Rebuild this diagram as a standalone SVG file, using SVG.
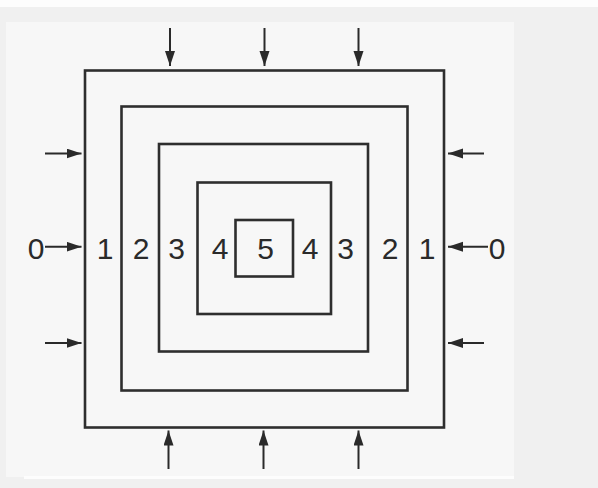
<svg xmlns="http://www.w3.org/2000/svg" width="598" height="488" viewBox="0 0 598 488">
<style>
.sq{fill:none;stroke:#2e2e2e;stroke-width:2.6}
.ar{stroke:#2a2a2a;stroke-width:2;fill:none;marker-end:url(#ah)}
.lb{font-family:"Liberation Sans",Arial,sans-serif;font-size:30px;fill:#2a2a2a;text-anchor:middle}
</style>
<defs>
<marker id="ah" markerUnits="userSpaceOnUse" markerWidth="16" markerHeight="12" refX="15" refY="5" orient="auto">
<path d="M0,0 L15,5 L0,10 Z" fill="#2a2a2a"/>
</marker>
</defs>
<rect x="0" y="0" width="598" height="488" fill="#f0f0f0"/>
<rect x="0" y="0" width="598" height="7" fill="#fdfdfd"/>
<rect x="6" y="22" width="508" height="455" fill="#f7f7f7"/>
<rect x="24" y="476" width="490" height="3" fill="#fdfdfd"/>
<g id="square1"><rect class="sq" x="85" y="70.5" width="359" height="357"/></g>
<g id="square2"><rect class="sq" x="121.5" y="106.5" width="286" height="284"/></g>
<g id="square3"><rect class="sq" x="159" y="144" width="209" height="207.5"/></g>
<g id="square4"><rect class="sq" x="197.5" y="182.5" width="133.5" height="131.5"/></g>
<g id="square5"><rect class="sq" x="235.5" y="220" width="57.5" height="56.5"/></g>
<g id="labels">
<text class="lb" x="36" y="258.5">0</text>
<text class="lb" x="105" y="258.5">1</text>
<text class="lb" x="141" y="258.5">2</text>
<text class="lb" x="176.5" y="258.5">3</text>
<text class="lb" x="220" y="258.5">4</text>
<text class="lb" x="265.5" y="258.5">5</text>
<text class="lb" x="310" y="258.5">4</text>
<text class="lb" x="345.5" y="258.5">3</text>
<text class="lb" x="390" y="258.5">2</text>
<text class="lb" x="427" y="258.5">1</text>
<text class="lb" x="497" y="258.5">0</text>
</g>
<g id="connectors">
<line class="ar" x1="170" y1="28" x2="170" y2="66"/>
<line class="ar" x1="264.5" y1="28" x2="264.5" y2="66"/>
<line class="ar" x1="358.5" y1="28" x2="358.5" y2="66"/>
<line class="ar" x1="168.5" y1="469" x2="168.5" y2="430.5"/>
<line class="ar" x1="263.5" y1="469" x2="263.5" y2="430.5"/>
<line class="ar" x1="358.5" y1="469" x2="358.5" y2="430.5"/>
<line class="ar" x1="45" y1="153.5" x2="81.5" y2="153.5"/>
<line class="ar" x1="45" y1="246.7" x2="81.5" y2="246.7"/>
<line class="ar" x1="45" y1="343" x2="81.5" y2="343"/>
<line class="ar" x1="484" y1="153.5" x2="448" y2="153.5"/>
<line class="ar" x1="488" y1="246.7" x2="448" y2="246.7"/>
<line class="ar" x1="484" y1="343" x2="448" y2="343"/>
</g>
</svg>
